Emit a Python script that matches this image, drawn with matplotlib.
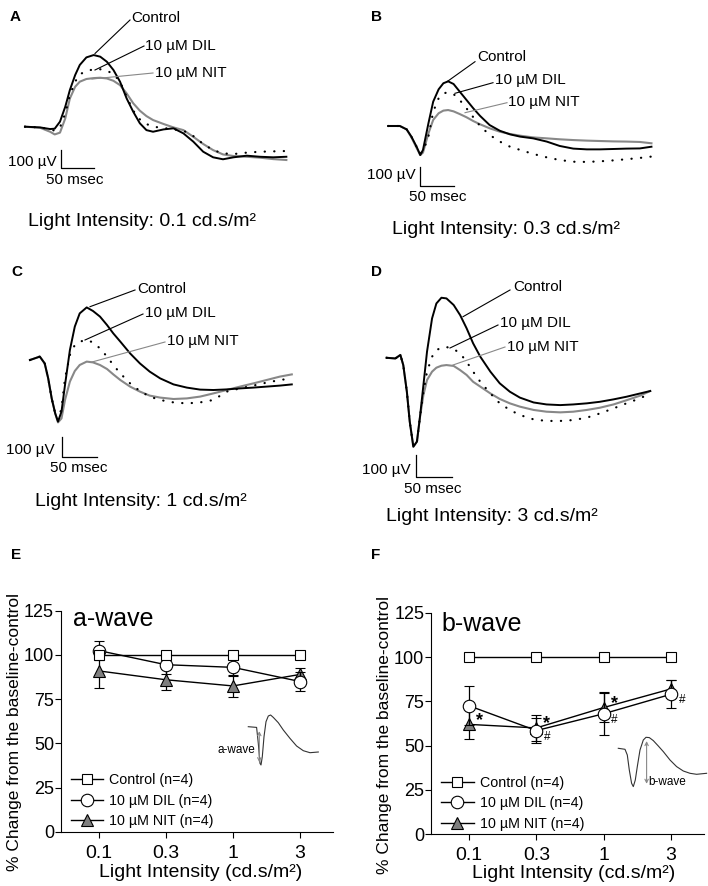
import matplotlib
matplotlib.use('Agg')
import matplotlib.pyplot as plt
from matplotlib.lines import Line2D

plt.rcParams['font.family'] = ['Liberation Sans', 'DejaVu Sans']

# ERG traces, time in ms, amplitude in uV
a_t = [0, 23, 38, 45, 53, 61, 68, 76, 83, 93, 104, 114, 124, 134, 144, 154,
       164, 174, 184, 194, 210, 225, 240, 255, 270, 285, 300, 316, 336, 356, 376, 396]
a_ctrl = [0, -4, -13, -11, 28, 111, 204, 287, 343, 385, 398, 389, 361, 315, 250, 157,
          83, 19, -19, -28, -15, -9, -37, -83, -139, -170, -181, -170, -161, -167, -170, -167]
a_dil = [0, -4, -15, -22, -4, 74, 176, 250, 291, 309, 319, 319, 311, 293, 250, 167,
         89, 41, 15, 0, -7, -15, -22, -52, -96, -130, -148, -152, -144, -139, -137, -135]
a_nit = [0, -6, -28, -43, -33, 46, 157, 222, 250, 265, 270, 272, 268, 255, 231, 185,
         130, 89, 59, 37, 15, -4, -19, -56, -96, -130, -154, -163, -167, -172, -180, -185]

b_t = [0, 17, 27, 34, 42, 47, 51, 59, 66, 74, 81, 88, 96, 105, 115, 125,
       135, 149, 164, 179, 194, 213, 233, 252, 272, 292, 311, 331, 350, 370, 387]
b_ctrl = [0, 0, -18, -56, -112, -153, -126, 14, 128, 193, 225, 235, 221, 181, 137, 93,
          53, 5, -25, -44, -56, -65, -82, -105, -119, -123, -123, -121, -119, -118, -109]
b_dil = [0, 0, -18, -56, -112, -144, -135, -56, 75, 146, 172, 177, 168, 137, 93, 46,
         0, -47, -82, -109, -126, -147, -165, -179, -188, -189, -186, -181, -175, -168, -161]
b_nit = [0, 0, -18, -60, -118, -153, -140, -39, 32, 67, 81, 84, 77, 63, 46, 26,
         9, -12, -30, -42, -51, -60, -65, -70, -74, -77, -79, -81, -82, -84, -91]

c_t = [0, 14, 21, 26, 31, 36, 40, 45, 50, 57, 64, 71, 81, 90, 100, 110,
       119, 129, 143, 157, 171, 186, 205, 224, 243, 262, 281, 300, 319, 338, 357, 374]
c_ctrl = [0, 17, -17, -92, -192, -267, -308, -258, -125, 50, 167, 233, 263, 245, 217, 175,
          133, 92, 33, -17, -58, -92, -122, -138, -148, -150, -147, -142, -138, -133, -128, -122]
c_dil = [0, 17, -17, -92, -192, -267, -300, -242, -92, 25, 75, 92, 100, 88, 58, 17,
         -25, -67, -117, -155, -183, -200, -212, -217, -212, -200, -158, -142, -128, -113, -100, -92]
c_nit = [0, 17, -17, -92, -192, -267, -312, -292, -200, -108, -55, -25, -8, -12, -25, -45,
         -72, -100, -133, -158, -178, -188, -195, -192, -183, -167, -150, -133, -117, -100, -83, -72]

d_t = [0, 12, 19, 23, 28, 32, 37, 42, 46, 51, 56, 63, 69, 76, 83, 93, 102,
       111, 120, 130, 144, 157, 171, 185, 204, 222, 241, 259, 278, 296, 315, 333, 352, 366]
d_ctrl = [-5, -8, 8, -38, -159, -295, -409, -386, -280, -129, 23, 174, 242, 268, 265, 235, 189,
          129, 61, 0, -68, -121, -159, -186, -208, -217, -220, -217, -212, -205, -194, -182, -167, -156]
d_dil = [-5, -8, 8, -38, -159, -295, -409, -386, -280, -159, -68, 0, 30, 41, 44, 35, 15,
         -23, -68, -114, -167, -212, -242, -265, -285, -292, -292, -288, -277, -258, -235, -212, -189, -167]
d_nit = [-5, -8, 8, -38, -159, -295, -409, -386, -280, -174, -106, -68, -50, -41, -38, -42, -61,
         -83, -114, -136, -167, -192, -212, -227, -242, -250, -253, -250, -242, -232, -217, -198, -177, -156]

# % change from baseline-control
intensity = ['0.1', '0.3', '1', '3']
aw_ctrl = [100, 100, 100, 100]
aw_dil = [102.5, 94.5, 93, 85]
aw_dil_err = [5.5, 5, 5, 5.5]
aw_nit = [91, 86, 82.5, 89]
aw_nit_err = [9.5, 6, 6, 3.5]

bw_ctrl = [100, 100, 100, 100]
bw_dil = [72.5, 58.5, 68, 79]
bw_dil_err = [11, 7, 12, 8]
bw_nit = [62, 60, 71.5, 82]
bw_nit_err = [8.5, 7.5, 8, 5]
bw_star = [0, 1, 2]   # NIT vs control
bw_hash = [1, 2, 3]   # DIL vs control

# schematic insets
ins_a_t = [0, 8.3, 10, 11.7, 12.7, 14, 15.7, 17.7, 20, 22.3, 25, 30, 35, 41.7, 48.3, 55, 61.7, 70]
ins_a_v = [0, -0.7, -16.7, -36.7, -38.3, -30, -10, 5, 10.7, 11.7, 9.3, 4, -3.3, -11.7, -19.3, -24, -26, -25.3]
ins_b_t = [0, 6.7, 9, 11, 13.3, 15, 17, 19, 21.7, 25, 27.7, 31, 35, 40, 45, 51.7, 58.3, 65, 71.7, 78.3, 88.3]
ins_b_v = [0, -1, -6.7, -21.7, -35, -38.3, -31.7, -18.3, -1.7, 8.3, 11, 10.7, 7.7, 2.3, -3.3, -11.7, -18.3, -22.7, -25, -26, -25]

W, H = 708, 886
fig = plt.figure(figsize=(W / 100, H / 100), dpi=100)
GRAY = '#888888'


def fx(x):
    return x / W


def fy(y):
    return 1 - y / H


def text(x, y, s, size=11, **kw):
    fig.text(fx(x), fy(y), s, fontsize=size, va='center', **kw)


def leader(p0, p1, color='black'):
    fig.add_artist(Line2D([fx(p0[0]), fx(p1[0])], [fy(p0[1]), fy(p1[1])],
                          color=color, lw=0.8))


def trace_panel(t, ctrl, dil, nit, box, origin, ms_px, uv_px, sb):
    left, top, right, bottom = box
    ax = fig.add_axes([fx(left), fy(bottom), (right - left) / W, (bottom - top) / H])
    x0, y0 = origin
    ax.set_xlim((left - x0) * ms_px, (right - x0) * ms_px)
    ax.set_ylim((y0 - bottom) * uv_px, (y0 - top) * uv_px)
    ax.axis('off')
    ax.plot(t, nit, color=GRAY, lw=1.5)
    ax.plot(t, dil, color='black', lw=1.6, ls=(0, (0.1, 4.2)), dash_capstyle='round')
    ax.plot(t, ctrl, color='black', lw=1.4)
    # scale bar 50 ms / 100 uV
    st, sv = (sb[0] - x0) * ms_px, (y0 - sb[1]) * uv_px
    ax.plot([st, st, st + 50], [sv + 100, sv, sv], color='black', lw=0.9, clip_on=False)
    return ax


# A
trace_panel(a_t, a_ctrl, a_dil, a_nit, (0, 30, 354, 200), (25, 126.7), 50 / 33, 100 / 18, (60.7, 168.3))
text(10, 17, 'A', 11, fontweight='bold')
text(131, 18, 'Control')
text(145, 46, '10 µM DIL')
text(155, 73.5, '10 µM NIT')
leader((130, 20), (95, 53.5))
leader((144, 46), (95, 70))
leader((153, 73), (92, 79), GRAY)
text(57, 161.7, '100 µV', ha='right')
text(46, 180, '50 msec')
text(28, 221.7, 'Light Intensity: 0.1 cd.s/m²', 14)

# B
trace_panel(b_t, b_ctrl, b_dil, b_nit, (354, 30, 708, 200), (388.3, 126), 50 / 34, 100 / 19, (419.7, 185.7))
text(371, 17, 'B', 11, fontweight='bold')
text(477, 56.7, 'Control')
text(495, 80, '10 µM DIL')
text(508, 102, '10 µM NIT')
leader((475, 61.7), (447, 81.7))
leader((493, 82.7), (455, 93.3))
leader((507, 102.7), (465, 112.7), GRAY)
text(415.7, 175.5, '100 µV', ha='right')
text(409, 196.7, '50 msec')
text(392, 230, 'Light Intensity: 0.3 cd.s/m²', 14)

# C
trace_panel(c_t, c_ctrl, c_dil, c_nit, (0, 275, 354, 470), (30, 360), 50 / 35, 100 / 20, (61.7, 456.7))
text(11, 272, 'C', 11, fontweight='bold')
text(137, 289, 'Control')
text(145, 313.5, '10 µM DIL')
text(167, 341.5, '10 µM NIT')
leader((135, 290), (90, 306.7))
leader((143, 314), (85, 340))
leader((165, 342), (92, 362), GRAY)
text(55, 450, '100 µV', ha='right')
text(50, 468, '50 msec')
text(35, 501.7, 'Light Intensity: 1 cd.s/m²', 14)

# D
trace_panel(d_t, d_ctrl, d_dil, d_nit, (354, 275, 708, 490), (386.7, 356.7), 50 / 36, 100 / 22, (415.7, 476.7))
text(371, 272, 'D', 11, fontweight='bold')
text(513, 287, 'Control')
text(500, 323.5, '10 µM DIL')
text(507, 346.5, '10 µM NIT')
leader((510, 290), (463, 316.7))
leader((498, 325), (450, 348))
leader((505, 347), (453, 365), GRAY)
text(410.7, 470, '100 µV', ha='right')
text(404, 489, '50 msec')
text(386, 516.7, 'Light Intensity: 3 cd.s/m²', 14)


def pct_panel(box, ctrl, dil, dil_err, nit, nit_err, title, title_xy):
    left, top, right, bottom = box
    ax = fig.add_axes([fx(left), fy(bottom), (right - left) / W, (bottom - top) / H])
    x = list(range(len(intensity)))
    ax.errorbar(x, nit, yerr=nit_err, color='black', lw=1, marker='^', ms=9,
                mfc='#7f7f7f', mec='black', mew=0.8, capsize=3.5, elinewidth=0.9, zorder=3)
    ax.errorbar(x, dil, yerr=dil_err, color='black', lw=1, marker='o', ms=9,
                mfc='white', mec='black', mew=0.8, capsize=3.5, elinewidth=0.9, zorder=4)
    ax.plot(x, ctrl, color='black', lw=1, marker='s', ms=7.5, mfc='white',
            mec='black', mew=0.8, zorder=5)
    ax.set_xlim(-0.56, 3.49)
    ax.set_ylim(0, 125)
    ax.set_yticks([0, 25, 50, 75, 100, 125])
    ax.set_xticks(x)
    ax.set_xticklabels(intensity)
    for s in ['top', 'right']:
        ax.spines[s].set_visible(False)
    for s in ['left', 'bottom']:
        ax.spines[s].set_linewidth(0.8)
    ax.tick_params(axis='y', labelsize=13, length=4, width=0.8, pad=1)
    ax.tick_params(axis='x', labelsize=14, length=4, width=0.8, pad=5)
    ax.text(title_xy[0], title_xy[1], title, transform=ax.transAxes, fontsize=18, va='center')
    handles = [
        Line2D([], [], color='black', lw=1, marker='s', ms=7.5, mfc='white', mec='black', mew=0.8),
        Line2D([], [], color='black', lw=1, marker='o', ms=9, mfc='white', mec='black', mew=0.8),
        Line2D([], [], color='black', lw=1, marker='^', ms=9, mfc='#7f7f7f', mec='black', mew=0.8),
    ]
    ax.legend(handles, ['Control (n=4)', '10 µM DIL (n=4)', '10 µM NIT (n=4)'],
              loc='lower left', bbox_to_anchor=(0.03, 0.01), frameon=False, fontsize=10.3,
              handlelength=2.3, handletextpad=0.4, labelspacing=0.45, borderpad=0.1,
              borderaxespad=0)
    return ax


# E
axE = pct_panel((61, 610.7, 333, 832), aw_ctrl, aw_dil, aw_dil_err, aw_nit, aw_nit_err,
                'a-wave', (0.044, 0.9625))
text(11.5, 555, 'E', 11, fontweight='bold')
text(15, 732, '% Change from the baseline-control', 12.5, ha='center', rotation=90)
text(201, 872.5, 'Light Intensity (cd.s/m²)', 14, ha='center')

insE = fig.add_axes([fx(240), fy(775), 90 / W, 70 / H])
insE.set_xlim(-8.3, 81.7)
insE.set_ylim(-48.3, 21.7)
insE.axis('off')
insE.plot(ins_a_t, ins_a_v, color='#333333', lw=0.8)
insE.annotate('', xy=(11, -1.7), xytext=(11, -38.3),
              arrowprops=dict(arrowstyle='<->', color=GRAY, lw=0.8, mutation_scale=6))
insE.text(6.7, -23.3, 'a-wave', fontsize=8.5, ha='right', va='center', clip_on=False)

# F
axF = pct_panel((431.3, 612.7, 704, 834.3), bw_ctrl, bw_dil, bw_dil_err, bw_nit, bw_nit_err,
                'b-wave', (0.039, 0.951))
text(371, 555, 'F', 11, fontweight='bold')
text(384, 735, '% Change from the baseline-control', 12.5, ha='center', rotation=90)
text(574, 874, 'Light Intensity (cd.s/m²)', 14, ha='center')
for i in bw_star:
    axF.annotate('*', (i, bw_nit[i]), xytext=(5, 3), textcoords='offset points',
                 fontsize=13, fontweight='bold', ha='left', va='center')
for i in bw_hash:
    axF.annotate('#', (i, bw_dil[i]), xytext=(5.5, -4.5), textcoords='offset points',
                 fontsize=8.5, ha='left', va='center')

insF = fig.add_axes([fx(610), fy(795), 98 / W, 67 / H])
insF.set_xlim(-8.3, 89.7)
insF.set_ylim(-46.7, 20.3)
insF.axis('off')
insF.plot(ins_b_t, ins_b_v, color='#333333', lw=0.8)
insF.annotate('', xy=(28.3, 10), xytext=(28.3, -38.3),
              arrowprops=dict(arrowstyle='<->', color=GRAY, lw=0.8, mutation_scale=6))
insF.text(29.7, -33.7, 'b-wave', fontsize=8.5, ha='left', va='center', clip_on=False)

fig.savefig('out.png', dpi=100)
